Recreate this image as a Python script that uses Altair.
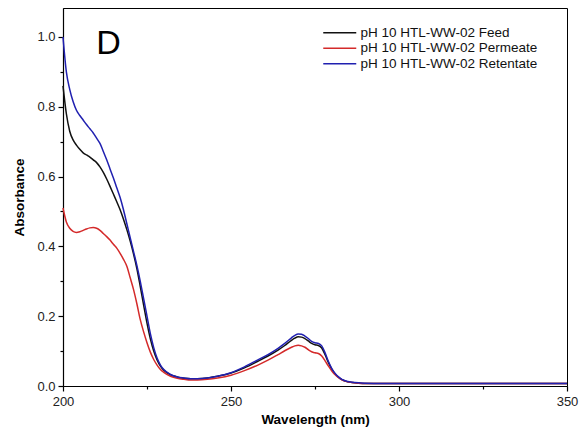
import altair as alt
import pandas as pd

wavelength = [200, 201, 202, 203, 204, 205, 206, 207, 208, 209, 210, 211, 212, 213, 214, 215, 216, 217, 218, 219,
              220, 221, 222, 223, 224, 225, 226, 227, 228, 229, 230, 232, 234, 236, 238, 240, 243, 246, 250, 254,
              258, 261, 264, 266, 268, 269, 270, 271, 272, 273, 274, 275, 276, 277, 278, 279, 280, 281, 282, 283,
              284, 286, 288, 290, 295, 300, 310, 320, 330, 340, 350]

feed = [0.86, 0.78, 0.73, 0.705, 0.69, 0.678, 0.668, 0.662, 0.656, 0.648, 0.64, 0.628, 0.612, 0.593, 0.572, 0.55,
        0.528, 0.505, 0.478, 0.448, 0.415, 0.378, 0.336, 0.285, 0.232, 0.18, 0.135, 0.10, 0.075, 0.057, 0.045,
        0.032, 0.026, 0.022, 0.021, 0.021, 0.023, 0.028, 0.037, 0.052, 0.071, 0.086, 0.103, 0.116, 0.131, 0.137,
        0.141, 0.140, 0.136, 0.129, 0.122, 0.118, 0.116, 0.109, 0.090, 0.067, 0.048, 0.034, 0.025, 0.018, 0.014,
        0.010, 0.008, 0.007, 0.007, 0.007, 0.007, 0.007, 0.007, 0.007, 0.007]

permeate = [0.51, 0.47, 0.452, 0.443, 0.44, 0.442, 0.446, 0.45, 0.453, 0.454, 0.452, 0.446, 0.437, 0.428, 0.418,
            0.406, 0.395, 0.38, 0.363, 0.343, 0.31, 0.276, 0.235, 0.19, 0.155, 0.124, 0.097, 0.076, 0.06, 0.047,
            0.039, 0.028, 0.022, 0.019, 0.017, 0.017, 0.019, 0.023, 0.031, 0.044, 0.06, 0.074, 0.09, 0.101, 0.111,
            0.115, 0.117, 0.115, 0.111, 0.104, 0.098, 0.095, 0.093, 0.086, 0.072, 0.057, 0.043, 0.032, 0.024, 0.018,
            0.014, 0.010, 0.008, 0.007, 0.007, 0.007, 0.007, 0.007, 0.007, 0.007, 0.007]

retentate = [1.0, 0.90, 0.85, 0.815, 0.79, 0.775, 0.762, 0.749, 0.737, 0.725, 0.71, 0.695, 0.672, 0.648, 0.622,
             0.596, 0.568, 0.54, 0.505, 0.465, 0.425, 0.385, 0.345, 0.30, 0.25, 0.20, 0.15, 0.11, 0.08, 0.06, 0.047,
             0.033, 0.026, 0.023, 0.021, 0.021, 0.023, 0.028, 0.038, 0.055, 0.075, 0.090, 0.108, 0.122, 0.138,
             0.145, 0.149, 0.148, 0.143, 0.136, 0.128, 0.124, 0.122, 0.115, 0.095, 0.07, 0.05, 0.036, 0.026, 0.019,
             0.015, 0.011, 0.009, 0.008, 0.007, 0.007, 0.007, 0.007, 0.007, 0.007, 0.007]

series_names = ["pH 10 HTL-WW-02 Feed", "pH 10 HTL-WW-02 Permeate", "pH 10 HTL-WW-02 Retentate"]
series_colors = ["#111111", "#d42a2a", "#2020b0"]

x_major = [200, 250, 300, 350]
x_minor = [225, 275, 325]
y_major = [0.0, 0.2, 0.4, 0.6, 0.8, 1.0]
y_minor = [0.1, 0.3, 0.5, 0.7, 0.9]

rows = []
for name, vals in zip(series_names, [feed, permeate, retentate]):
    for w, v in zip(wavelength, vals):
        rows.append({"Wavelength": w, "Absorbance": v, "Series": name})
df = pd.DataFrame(rows)

FONT = "Liberation Sans"
xscale = alt.Scale(domain=[200, 350], nice=False, zero=False)
yscale = alt.Scale(domain=[0, 1.083], nice=False)

lines = alt.Chart(df).mark_line(strokeWidth=1.5, interpolate="monotone").encode(
    x=alt.X("Wavelength:Q", scale=xscale,
            axis=alt.Axis(orient="bottom", values=x_major, title="Wavelength (nm)", tickSize=5,
                          labelFlush=False, labelPadding=4, titlePadding=4)),
    y=alt.Y("Absorbance:Q", scale=yscale,
            axis=alt.Axis(orient="left", values=y_major, format=".1f", title="Absorbance", tickSize=5,
                          labelPadding=3, titlePadding=10)),
    color=alt.Color("Series:N", scale=alt.Scale(domain=series_names, range=series_colors),
                    legend=alt.Legend(title=None, orient="none", legendX=270, legendY=18,
                                      symbolType="M-3,0H3", symbolSize=121, symbolStrokeWidth=1.5,
                                      labelOffset=14, labelFontSize=13.5, labelFont=FONT,
                                      labelColor="#111111", labelLimit=400, rowPadding=0.5,
                                      padding=0)),
)

minor = alt.Chart(df).mark_line(strokeOpacity=0).encode(
    x=alt.X("Wavelength:Q", scale=xscale,
            axis=alt.Axis(orient="bottom", values=x_minor, labels=False, domain=False, title=None, tickSize=3)),
    y=alt.Y("Absorbance:Q", scale=yscale,
            axis=alt.Axis(orient="left", values=y_minor, labels=False, domain=False, title=None, tickSize=3)),
    detail="Series:N",
)

label = alt.Chart(pd.DataFrame({"t": ["D"]})).mark_text(
    fontSize=34, font=FONT, color="#000000", align="center", baseline="alphabetic"
).encode(text="t:N", x=alt.value(45.5), y=alt.value(46))

chart = alt.layer(lines, minor, label).resolve_axis(
    x="independent", y="independent"
).properties(
    width=504, height=378, autosize="none",
    padding={"left": 55, "top": 0, "right": 12, "bottom": 48},
).configure_axis(
    grid=False, domainColor="#000000", domainWidth=1.2, tickColor="#000000", tickWidth=1.2,
    labelFont=FONT, labelFontSize=13, labelColor="#222222",
    titleFont=FONT, titleFontSize=13.5, titleFontWeight="bold", titleColor="#000000",
).configure_view(stroke="#000000", strokeWidth=1)

chart.save("out.html", embed_options={"renderer": "svg", "actions": False})
